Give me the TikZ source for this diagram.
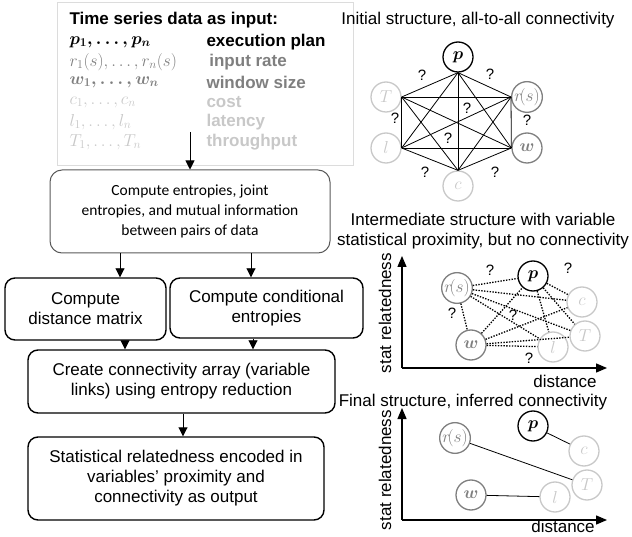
\documentclass[tikz,border=0pt]{standalone}
\usepackage{amsmath}
\usepackage{fontspec}
\setmainfont{Liberation Sans}
\newfontfamily\calibri{Carlito}
\usetikzlibrary{arrows.meta,positioning}
\definecolor{vargray}{HTML}{7F7F7F}
\definecolor{varlight}{HTML}{C8C8C8}
\definecolor{inframe}{HTML}{DCDCDC}
\definecolor{entframe}{HTML}{595959}

\begin{document}
\begin{tikzpicture}[x=1pt,y=-1pt,font=\fontsize{17}{20}\selectfont,
  box/.style={draw,line width=1.4pt,rounded corners=10pt,align=center,inner sep=2pt},
  arr/.style={-{Triangle[length=9pt,width=9pt]},line width=0.9pt},
  axis/.style={-{Triangle[length=11pt,width=9pt]},line width=1.3pt},
  var/.style={circle,draw,line width=1.3pt,minimum size=30pt,inner sep=0pt,font=\fontsize{19}{19}\selectfont},
  vb/.style={var,black},
  vg/.style={var,vargray},
  vl/.style={var,varlight},
  edge/.style={line width=0.8pt},
  dotedge/.style={line width=1.3pt,dash pattern=on 1.4pt off 1.4pt},
  qm/.style={font=\fontsize{15}{15}\selectfont,inner sep=0pt}]
\useasboundingbox (0,0) rectangle (632,537);

% input data
\node[draw=inframe,line width=0.8pt,minimum width=296pt,minimum height=163pt] (inbox) at (205,83.5) {};
\node[anchor=west,font=\fontsize{17}{20}\selectfont\bfseries] (intitle) at (66,20) {Time series data as input:};
\foreach \i/\vmath/\vdesc/\vcol in {1/{$\boldsymbol{p_1,\ldots,p_n}$}/execution plan/black,
    2/{$r_1(s),\ldots,r_n(s)$}/{\,input rate}/vargray,
    3/{$\boldsymbol{w_1,\ldots,w_n}$}/window size/vargray,
    4/{$c_1,\ldots,c_n$}/cost/varlight,
    5/{$l_1,\ldots,l_n$}/latency/varlight,
    6/{$T_1,\ldots,T_n$}/throughput/varlight}{
  \node[anchor=west,text=\vcol] (v\i) at (66,{22+20*\i}) {\vmath};
  \node[anchor=west,text=\vcol,font=\fontsize{17}{20}\selectfont\bfseries] (d\i) at (203,{22+20*\i}) {\vdesc};
}
\coordinate (instart) at (190,132);

% flow
\node[box,draw=entframe,line width=1pt,rounded corners=12pt,minimum width=280pt,minimum height=83pt,
  font=\calibri\fontsize{15.5}{20}\selectfont] (ent) at (190,211.5)
  {Compute entropies, joint\\entropies, and mutual information\\between pairs of data};
\node[box,minimum width=161pt,minimum height=62pt] (dist) at (85.5,309) {Compute\\distance matrix};
\node[box,minimum width=193pt,minimum height=60pt] (cond) at (266.5,308) {Compute conditional\\entropies};
\node[box,minimum width=307pt,minimum height=63pt] (conn) at (181.5,381.5) {Create connectivity array (variable\\links) using entropy reduction};
\node[box,minimum width=296pt,minimum height=83pt] (out) at (176,478.5) {Statistical relatedness encoded in\\variables’ proximity and\\connectivity as output};
\draw[arr] (instart) -- (ent.north);
\draw[arr] (ent.south -| 120,0) -- (dist.north -| 120,0);
\draw[arr] (ent.south -| 251,0) -- (cond.north -| 251,0);
\draw[arr] (dist.south -| 125,0) -- (conn.north -| 125,0);
\draw[arr] (cond.south -| 253,0) -- (conn.north -| 253,0);
\draw[arr] (conn.south -| 183,0) -- (out.north -| 183,0);

% initial structure
\node (ititle) at (478,20) {Initial structure, all-to-all connectivity};
\node[vb] (ip) at (458,57) {$\boldsymbol{p}$};
\node[vg] (ir) at (527,97) {$r\!(s)$};
\node[vg] (iw) at (527,148) {$\boldsymbol{w}$};
\node[vl] (ic) at (458,186) {$c$};
\node[vl] (il) at (386,148) {$l$};
\node[vl] (iT) at (386,97) {$T$};
\foreach \a/\b in {ip.south/iT.east, ip.south/ir.west, ip.south/iw.west, ip.south/il.east, ip.south/ic.north,
    iT.east/ir.west, iT.east/iw.west, iT.east/il.east, iT.east/ic.north, ir.west/iw.west,
    ir.west/il.east, ir.west/ic.north, il.east/iw.west, il.east/ic.north, iw.west/ic.north}
  \draw[edge] (\a) -- (\b);
\foreach \x/\y [count=\i] in {422/75, 490/74, 395/118, 527/120, 467/108, 448/138, 425/172, 495/172}
  \node[qm] (iq\i) at (\x,\y) {?};

% intermediate structure
\node[align=center] (mtitle) at (483,231) {Intermediate structure with variable\\statistical proximity, but no connectivity};
\coordinate (mo) at (402,368);
\coordinate (mytop) at (402,256);
\coordinate (mxend) at (607,368);
\draw[axis] (mo) -- (mytop);
\draw[axis] (mo) -- (mxend);
\node[rotate=90] (mylab) at (385,313) {stat relatedness};
\node (mxlab) at (565,381) {distance};
\node[vb] (mp) at (533,276) {$\boldsymbol{p}$};
\node[vg] (mr) at (457,288) {$r\!(s)$};
\node[vl] (mc) at (582,302) {$c$};
\node[vl] (mT) at (585,336) {$T$};
\node[vg] (mw) at (471,345) {$\boldsymbol{w}$};
\node[vl] (ml) at (553,347) {$l$};
\foreach \a/\b in {mr/mp, mr/mc, mr/mT, mr/ml, mr/mw, mw/mp, mw/mc, mw/mT, mw/ml, mp/mc, mp/mT, mp/ml}
  \draw[dotedge] (\a) -- (\b);
\foreach \x/\y [count=\i] in {490/270, 568/268, 452/313, 513/315, 529/358}
  \node[qm] (mq\i) at (\x,\y) {?};

% final structure
\node (ftitle) at (473,402) {Final structure, inferred connectivity};
\coordinate (fo) at (402,520);
\coordinate (fytop) at (402,408);
\coordinate (fxend) at (607,520);
\draw[axis] (fo) -- (fytop);
\draw[axis] (fo) -- (fxend);
\node[rotate=90] (fylab) at (385,470) {stat relatedness};
\node (fxlab) at (563,526) {distance};
\node[vb] (fp) at (533,426) {$\boldsymbol{p}$};
\node[vl] (fc) at (584,451) {$c$};
\node[vg] (fr) at (455,438) {$r\!(s)$};
\node[vl] (fT) at (587,485) {$T$};
\node[vg] (fw) at (471,495) {$\boldsymbol{w}$};
\node[vl] (fl) at (555,497) {$l$};
\draw[edge] (fp) -- (fc);
\draw[edge] (fr) -- (fT);
\draw[edge] (fw) -- (fl);
\end{tikzpicture}
\end{document}
